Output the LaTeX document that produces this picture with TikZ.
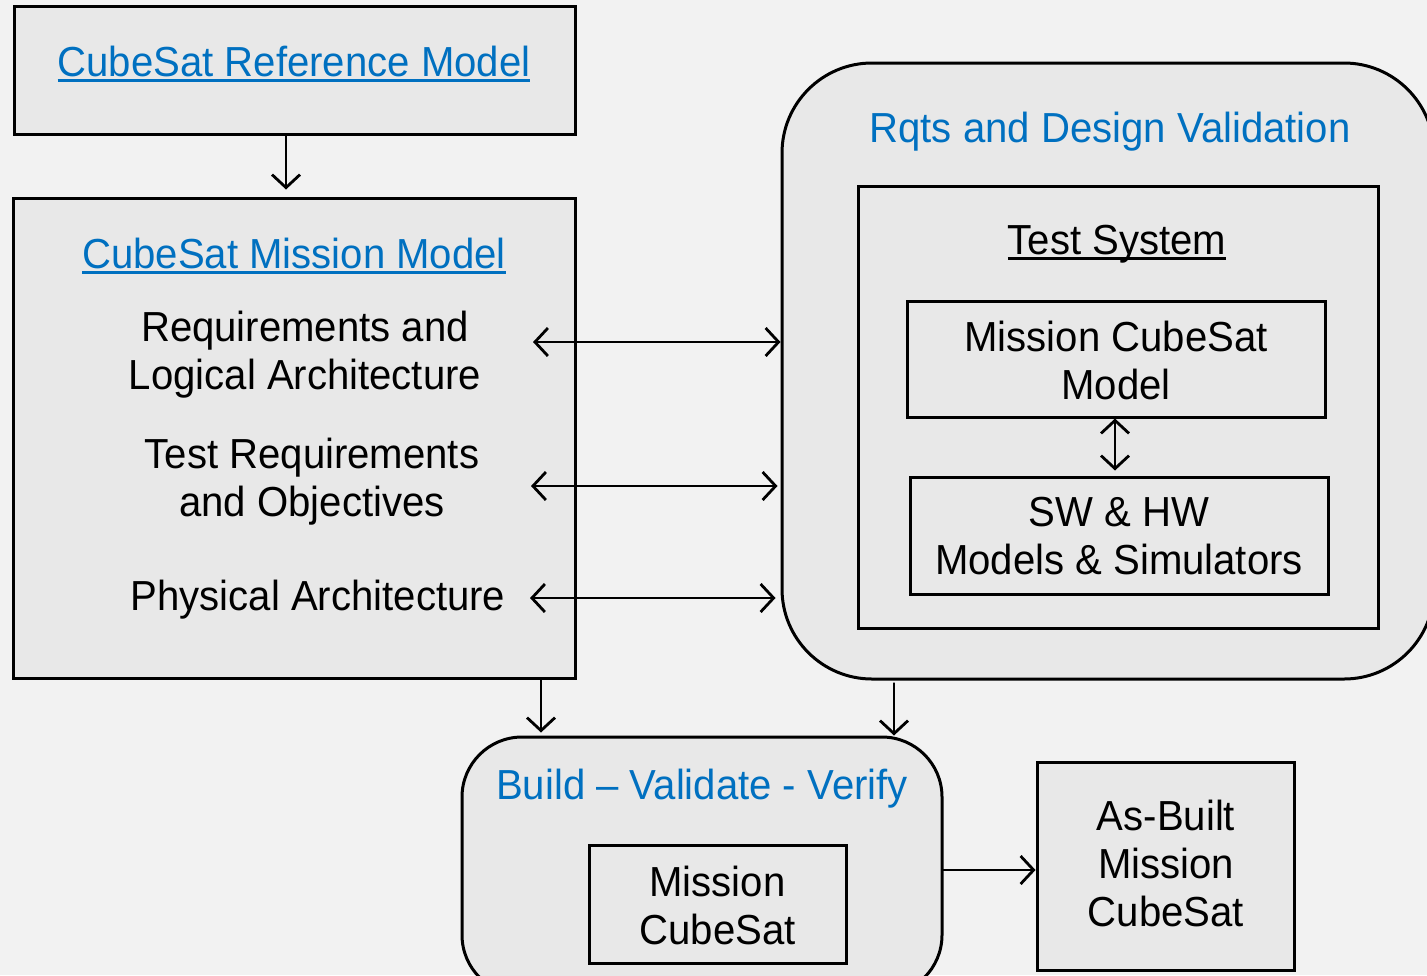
\documentclass[tikz,border=0pt]{standalone}
\usepackage{fontspec}
\setmainfont{Liberation Sans}[FakeStretch=0.955]
\usetikzlibrary{arrows.meta}
\definecolor{pagebg}{HTML}{F2F2F2}
\definecolor{boxfill}{HTML}{E8E8E8}
\definecolor{linkblue}{HTML}{0070C0}
% underline with a heavier rule than \underline gives
\newcommand\heavyul[1]{\leavevmode\setbox0\hbox{#1}\rlap{\rule[-2.6pt]{\wd0}{1.4pt}}\box0}
\tikzset{
  txt/.style={inner sep=0pt, align=center, font=\fontsize{21pt}{24pt}\selectfont},
  blue txt/.style={txt, text=linkblue},
  plainbox/.style={draw=black, line width=1.5pt, fill=boxfill, inner sep=0pt},
  roundbox/.style={plainbox, rounded corners=#1},
  arr/.style={line width=1.4pt, line cap=round, -{Straight Barb[length=6.5pt,width=14pt,line width=1.4pt]}},
  darr/.style={line width=1.4pt, line cap=round, {Straight Barb[length=6.5pt,width=14pt,line width=1.4pt]}-{Straight Barb[length=6.5pt,width=14pt,line width=1.4pt]}},
}
\begin{document}
\begin{tikzpicture}[x=0.5pt, y=-0.5pt]
\useasboundingbox (0,0) rectangle (1427,975);
\fill[pagebg] (0,0) rectangle (1427,975);

% left column
\node[plainbox, minimum width=280.5pt, minimum height=64pt] (ref) at (294.5,70) {};
\node[blue txt] (reft) at (294,64) {\heavyul{CubeSat Reference Model}};

\node[plainbox, minimum width=281pt, minimum height=240pt] (mission) at (294,438) {};
\node[blue txt] (missiont) at (294,256) {\heavyul{CubeSat Mission Model}};
\node[txt] (req) at (305,355) {Requirements and\\Logical Architecture};
\node[txt] (testreq) at (312,482) {Test Requirements\\and Objectives};
\node[txt] (phys) at (318,600) {Physical Architecture};

% right column
\node[roundbox=45pt, minimum width=326pt, minimum height=308pt] (rqts) at (1108,371) {};
\node[blue txt] (rqtst) at (1110,132) {Rqts and Design Validation};
\node[plainbox, minimum width=260pt, minimum height=221pt] (testsys) at (1118,407) {};
\node[txt] (testsyst) at (1117,244) {\heavyul{Test System}};
\node[plainbox, minimum width=209pt, minimum height=58pt] (mcm) at (1116,359) {};
\node[txt] (mcmt) at (1116,360) {Mission CubeSat\\Model};
\node[plainbox, minimum width=209pt, minimum height=58.5pt] (swhw) at (1119,535.5) {};
\node[txt] (swhwt) at (1119,536) {SW \& HW\\Models \& Simulators};

% bottom row
\node[roundbox=30pt, minimum width=240pt, minimum height=129pt] (build) at (702,866) {};
\node[blue txt] (buildt) at (702,789) {Build -- Validate - Verify};
\node[plainbox, minimum width=128.5pt, minimum height=59pt] (mcs) at (717.5,904) {};
\node[txt] (mcst) at (717.5,905) {Mission\\CubeSat};
\node[plainbox, minimum width=128.5pt, minimum height=104pt] (asbuilt) at (1165.5,866) {};
\node[txt] (asbuiltt) at (1166,863) {As-Built\\Mission\\CubeSat};

% connector columns and rows
\coordinate (c1) at (286,0);
\coordinate (c2) at (541,0);
\coordinate (c3) at (894,0);
\coordinate (c4) at (1115,0);
\coordinate (r1) at (533,342);
\coordinate (r2) at (531,486);
\coordinate (r3) at (530,598);
\coordinate (r4) at (0,870);

\draw[arr, shorten >=3.5pt] (ref.south -| c1) -- (mission.north -| c1);
\draw[darr] (r1) -- (r1 -| rqts.west);
\draw[darr, shorten >=1.5pt] (r2) -- (r2 -| rqts.west);
\draw[darr, shorten >=2.5pt] (r3) -- (r3 -| rqts.west);
\draw[darr, shorten >=2.5pt] (mcm.south -| c4) -- (swhw.north -| c4);
\draw[arr, shorten >=1.5pt] (mission.south -| c2) -- (build.north -| c2);
\draw[arr, shorten <=1.5pt] (rqts.south -| c3) -- (build.north -| c3);
\draw[arr] (build.east |- r4) -- (asbuilt.west |- r4);
\end{tikzpicture}
\end{document}
